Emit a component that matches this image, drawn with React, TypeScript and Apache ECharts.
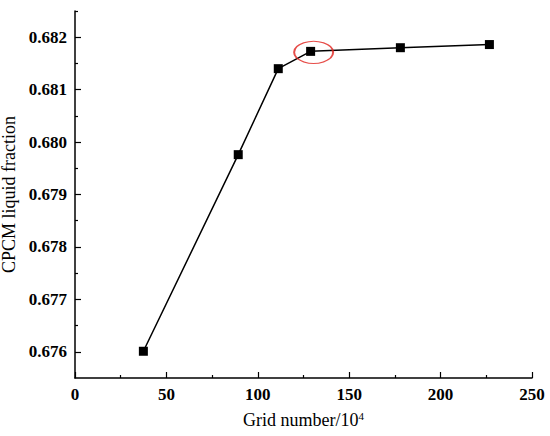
import React, { useEffect, useRef } from "react";
import * as echarts from "echarts";

const gridNumbers = [37.4, 89.3, 111.2, 128.9, 178.0, 226.7];
const liquidFraction = [0.67601, 0.67976, 0.6814, 0.68173, 0.6818, 0.68186];
const highlighted = [[128.9, 0.68173]];
const yMajorTicks = [0.676, 0.677, 0.678, 0.679, 0.68, 0.681, 0.682];
const yMinorTicks = [0.6765, 0.6775, 0.6785, 0.6795, 0.6805, 0.6815, 0.6825];
const xAxisName = "Grid number/10{sup|4}";
const yAxisName = "CPCM liquid fraction";

const FONT = "'Liberation Serif', 'Times New Roman', Times, serif";

const labelStyle = {
  fontFamily: FONT,
  fontSize: 17,
  fontWeight: "bold",
  color: "#000",
  margin: 8,
};

export default function App() {
  const ref = useRef<HTMLDivElement>(null);
  useEffect(() => {
    if (!ref.current) return;
    const chart = echarts.init(ref.current, undefined, { renderer: "svg" });
    chart.setOption({
      animation: false,
      backgroundColor: "#ffffff",
      textStyle: { fontFamily: FONT, color: "#000" },
      grid: { left: 75, right: 18, top: 11, bottom: 58, containLabel: false, outerBoundsMode: "none" },
      xAxis: {
        type: "value",
        min: 0,
        max: 250,
        interval: 50,
        name: xAxisName,
        nameLocation: "middle",
        nameGap: 32,
        nameTextStyle: {
          fontFamily: FONT,
          fontSize: 18,
          color: "#000",
          rich: {
            sup: { fontFamily: FONT, fontSize: 11, color: "#000", verticalAlign: "top", padding: [0, 0, 8, 0] },
          },
        },
        axisLine: { show: true, onZero: false, lineStyle: { color: "#000", width: 1.5 } },
        axisTick: { show: true, inside: true, length: 6, lineStyle: { color: "#000", width: 1.2 } },
        minorTick: { show: true, splitNumber: 2, length: 3, lineStyle: { color: "#000", width: 1.2 } },
        splitLine: { show: false },
        axisLabel: { ...labelStyle },
      },
      yAxis: [
        {
          type: "value",
          position: "left",
          min: 0.6755,
          max: 0.6825,
          name: yAxisName,
          nameLocation: "middle",
          nameGap: 35,
          nameTextStyle: { fontFamily: FONT, fontSize: 18, color: "#000" },
          axisLine: { show: true, onZero: false, lineStyle: { color: "#000", width: 1.5 } },
          axisTick: { show: true, inside: true, length: 6, customValues: yMajorTicks, lineStyle: { color: "#000", width: 1.2 } },
          splitLine: { show: false },
          axisLabel: {
            ...labelStyle,
            customValues: yMajorTicks,
            formatter: (v: number) => v.toFixed(3),
          },
        },
        {
          type: "value",
          position: "left",
          min: 0.6755,
          max: 0.6825,
          axisLine: { show: false },
          axisTick: { show: true, inside: true, length: 3, customValues: yMinorTicks, lineStyle: { color: "#000", width: 1.2 } },
          axisLabel: { show: false },
          splitLine: { show: false },
        },
      ],
      series: [
        {
          type: "line",
          data: gridNumbers.map((x, i) => [x, liquidFraction[i]]),
          symbol: "rect",
          symbolSize: 9,
          lineStyle: { color: "#000", width: 1.5 },
          itemStyle: { color: "#000" },
          z: 3,
        },
        {
          type: "scatter",
          data: highlighted,
          symbol: "circle",
          symbolSize: [39, 22],
          symbolOffset: [3, 1],
          itemStyle: { color: "rgba(0,0,0,0)", borderColor: "#e0201c", borderWidth: 1.5 },
          z: 4,
          silent: true,
        },
      ],
    });
    return () => chart.dispose();
  }, []);
  return (
    <div
      ref={ref}
      style={{ position: "absolute", left: 0, top: 0, width: 550, height: 436, overflow: "hidden" }}
    />
  );
}
